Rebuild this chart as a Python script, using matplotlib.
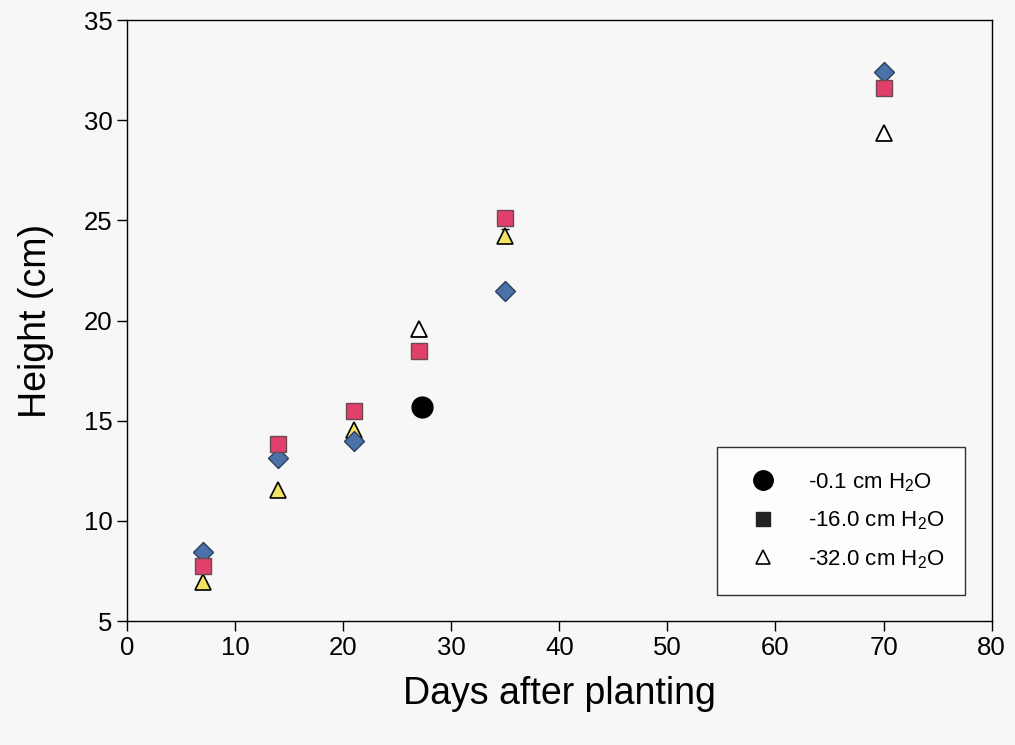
import matplotlib
matplotlib.use('Agg')
import matplotlib.pyplot as plt
from matplotlib.lines import Line2D

plt.rcParams['font.family'] = ['Liberation Sans', 'DejaVu Sans']
plt.rcParams['mathtext.fontset'] = 'custom'
plt.rcParams['mathtext.rm'] = 'Liberation Sans'
plt.rcParams['mathtext.it'] = 'Liberation Sans'

# Data
days_diamond = [7, 14, 21, 35, 70]
height_diamond = [8.45, 13.15, 14.0, 21.5, 32.4]

days_square = [7, 14, 21, 27, 35, 70]
height_square = [7.75, 13.85, 15.5, 18.5, 25.1, 31.6]

days_yellow = [7, 14, 21, 35]
height_yellow = [6.95, 11.55, 14.55, 24.2]
err_yellow = [0.0, 0.0, 0.0, 0.35]

days_circle = [27.3]
height_circle = [15.7]

days_open = [27, 70]
height_open = [19.6, 29.35]

labels = [r'-0.1 cm H$_2$O', r'-16.0 cm H$_2$O', r'-32.0 cm H$_2$O']

fig = plt.figure(figsize=(10.15, 7.45), dpi=100)
ax = fig.add_axes([0.125, 0.1664, 0.852, 0.8066])

ax.errorbar(days_yellow, height_yellow, yerr=err_yellow, fmt='none',
            ecolor='black', elinewidth=1, capsize=3, zorder=2)
ax.plot(days_yellow, height_yellow, linestyle='none', marker='^', markersize=11,
        markerfacecolor='#f2e462', markeredgecolor='black', markeredgewidth=1.2, zorder=3)
ax.plot(days_diamond, height_diamond, linestyle='none', marker='D', markersize=10,
        markerfacecolor='#4a72a8', markeredgecolor='#2b3f5c', markeredgewidth=1, zorder=4)
ax.plot(days_square, height_square, linestyle='none', marker='s', markersize=11,
        markerfacecolor='#e2406c', markeredgecolor='#6a4a50', markeredgewidth=1, zorder=5)
ax.plot(days_open, height_open, linestyle='none', marker='^', markersize=11,
        markerfacecolor='white', markeredgecolor='black', markeredgewidth=1.3, zorder=6)
ax.plot(days_circle, height_circle, linestyle='none', marker='o', markersize=15,
        markerfacecolor='black', markeredgecolor='black', zorder=7)

handles = [
    Line2D([], [], linestyle='none', marker='o', markersize=14, color='black'),
    Line2D([], [], linestyle='none', marker='s', markersize=10, color='#222222'),
    Line2D([], [], linestyle='none', marker='^', markersize=10,
           markerfacecolor='white', markeredgecolor='black', markeredgewidth=1.2),
]
leg = ax.legend(handles, labels, loc='lower left', bbox_to_anchor=(0.682, 0.043, 0.287, 0.245),
                mode='expand', fontsize=16, frameon=True, fancybox=False,
                borderpad=1.1, labelspacing=0.72, handletextpad=1.0, borderaxespad=0)
leg.get_frame().set_edgecolor('black')
leg.get_frame().set_linewidth(1)

ax.set_xlim(0, 80)
ax.set_ylim(5, 35)
ax.set_xticks(range(0, 81, 10))
ax.set_yticks(range(5, 36, 5))
ax.tick_params(direction='out', length=7, width=1, labelsize=18.5, top=False, right=False)
for s in ax.spines.values():
    s.set_linewidth(1)

ax.set_xlabel('Days after planting', fontsize=27, labelpad=12)
ax.set_ylabel('Height (cm)', fontsize=27, labelpad=21)

fig.patch.set_facecolor('#f7f7f7')
ax.set_facecolor('#f7f7f7')

fig.savefig('out.png', dpi=100, facecolor=fig.get_facecolor())
